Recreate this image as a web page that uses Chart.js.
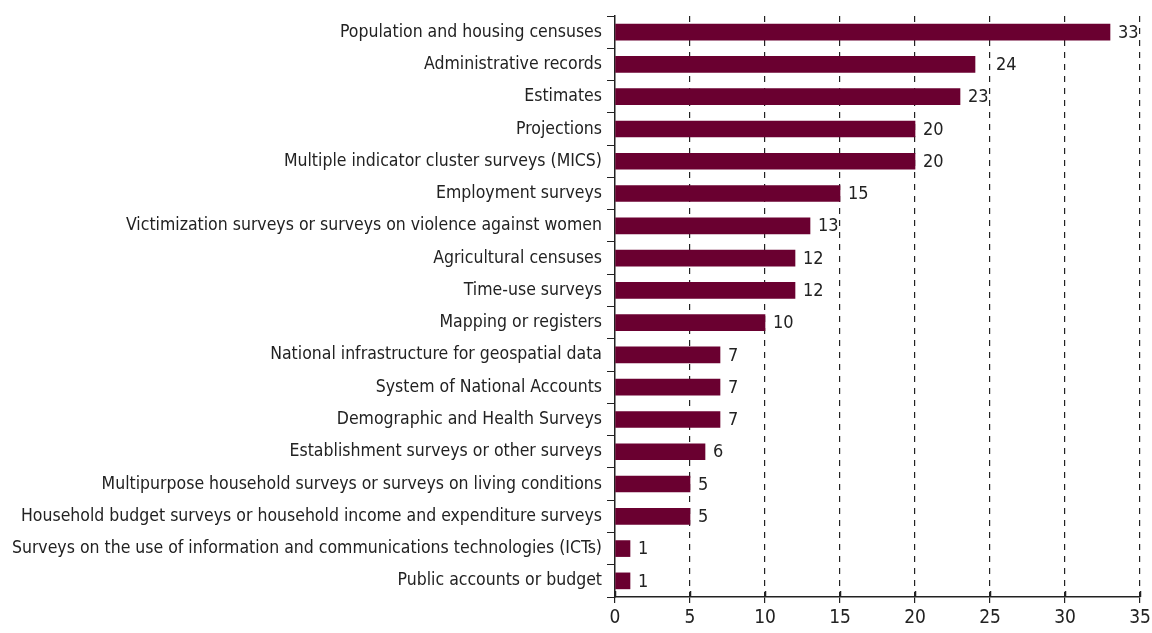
<!DOCTYPE html>
<html>
<head>
<meta charset="utf-8">
<script src="https://cdn.jsdelivr.net/npm/chart.js@4/dist/chart.umd.min.js"></script>
<style>
  html, body { margin: 0; padding: 0; background: #fff; }
  #wrap { width: 1152px; height: 633px; position: relative; }
</style>
</head>
<body>
<div id="wrap"><canvas id="sourcesChart"></canvas></div>
<script>
const categories = [
  'Population and housing censuses',
  'Administrative records',
  'Estimates',
  'Projections',
  'Multiple indicator cluster surveys (MICS)',
  'Employment surveys',
  'Victimization surveys or surveys on violence against women',
  'Agricultural censuses',
  'Time-use surveys',
  'Mapping or registers',
  'National infrastructure for geospatial data',
  'System of National Accounts',
  'Demographic and Health Surveys',
  'Establishment surveys or other surveys',
  'Multipurpose household surveys or surveys on living conditions',
  'Household budget surveys or household income and expenditure surveys',
  'Surveys on the use of information and communications technologies (ICTs)',
  'Public accounts or budget',
];
const counts = [33, 24, 23, 20, 20, 15, 13, 12, 12, 10, 7, 7, 7, 6, 5, 5, 1, 1];
const xTicks = [0, 5, 10, 15, 20, 25, 30, 35];

const barColor = '#6a0030';
const fontFamily = '"Liberation Sans Narrow", "DejaVu Sans Condensed", sans-serif';
const fontSize = 17.5;

// value labels just past the end of each bar; hop over a gridline if one runs through the number
const valueLabels = {
  id: 'valueLabels',
  afterDatasetsDraw(chart) {
    const { ctx } = chart;
    const xs = chart.scales.x;
    const gridPx = xTicks.slice(1).map((t) => xs.getPixelForValue(t));
    const meta = chart.getDatasetMeta(0);
    ctx.save();
    ctx.font = `${fontSize + 0.5}px ${fontFamily}`;
    ctx.fillStyle = '#222';
    ctx.textBaseline = 'middle';
    ctx.textAlign = 'left';
    meta.data.forEach((bar, i) => {
      const text = String(counts[i]);
      const w = ctx.measureText(text).width;
      let left = bar.x + 8;
      gridPx.forEach((g) => {
        if (g > left + 2 && g < left + w - 3) left = g + 6;
      });
      ctx.fillText(text, left, bar.y + 1);
    });
    ctx.restore();
  },
};

// x ticks cross the axis line, so add the inner half
const innerTicks = {
  id: 'innerTicks',
  afterDraw(chart) {
    const { ctx } = chart;
    const x = chart.scales.x;
    const y0 = chart.chartArea.bottom;
    ctx.save();
    ctx.strokeStyle = '#222';
    ctx.lineWidth = 1.5;
    ctx.beginPath();
    xTicks.forEach((t) => {
      const px = Math.round(x.getPixelForValue(t)) + 0.5;
      ctx.moveTo(px, y0 - 6);
      ctx.lineTo(px, y0);
    });
    ctx.stroke();
    ctx.restore();
  },
};

new Chart(document.getElementById('sourcesChart'), {
  type: 'bar',
  data: {
    labels: categories,
    datasets: [{
      data: counts,
      backgroundColor: barColor,
      borderWidth: 0,
      barThickness: 16,
    }],
  },
  options: {
    indexAxis: 'y',
    responsive: true,
    maintainAspectRatio: false,
    animation: false,
    layout: { padding: { top: 16, right: 12, left: 0, bottom: 0 } },
    plugins: { legend: { display: false }, tooltip: { enabled: false } },
    scales: {
      x: {
        min: 0,
        max: 35,
        afterBuildTicks: (scale) => { scale.ticks = xTicks.map((v) => ({ value: v })); },
        afterFit: (scale) => {
          scale.height = 36;
          scale.paddingLeft = 0;
          scale.paddingRight = 0;
        },
        grid: {
          color: (c) => (c.tick && c.tick.value === 0 ? 'rgba(0,0,0,0)' : '#222'),
          lineWidth: 1.2,
          tickColor: '#222',
          tickLength: 6,
        },
        border: { display: true, color: '#222', width: 1.5, dash: [6, 6] },
        ticks: {
          color: '#222',
          padding: 4,
          font: { family: fontFamily, size: 19 },
        },
      },
      y: {
        afterFit: (scale) => { scale.width = 615; },
        grid: {
          offset: true,
          drawOnChartArea: false,
          color: '#222',
          tickLength: 8,
        },
        border: { display: true, color: '#222', width: 1.5 },
        ticks: {
          color: '#222',
          padding: 5,
          font: { family: fontFamily, size: fontSize },
        },
      },
    },
  },
  plugins: [valueLabels, innerTicks],
});
</script>
</body>
</html>
